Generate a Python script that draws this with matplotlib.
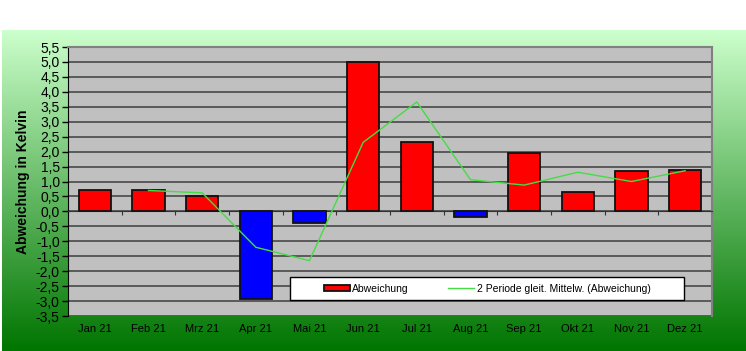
import numpy as np
import matplotlib.pyplot as plt
from matplotlib.ticker import MultipleLocator, FuncFormatter
from matplotlib.patches import Rectangle

plt.rcParams['font.family'] = ['Liberation Sans', 'DejaVu Sans']

months = ['Jan 21', 'Feb 21', 'Mrz 21', 'Apr 21', 'Mai 21', 'Jun 21',
          'Jul 21', 'Aug 21', 'Sep 21', 'Okt 21', 'Nov 21', 'Dez 21']
abweichung = [0.70, 0.70, 0.53, -2.92, -0.38, 5.00, 2.32, -0.20, 1.95, 0.66, 1.34, 1.38]
# 2 Perioden gleitender Mittelwert, starts at Feb
mittel_months = months[1:]
mittel = [0.70, 0.62, -1.20, -1.65, 2.31, 3.66, 1.06, 0.88, 1.31, 1.00, 1.36]

fig = plt.figure(figsize=(7.46, 3.51), dpi=100)
fig.patch.set_facecolor('white')

# green gradient background
bg = fig.add_axes([2 / 746, 0, 1 - 2 / 746, 321 / 351], zorder=0)
grad = np.linspace(0, 1, 256).reshape(-1, 1)
top = np.array([0.80, 1.0, 0.80])
bot = np.array([0.0, 0.46, 0.0])
img = top + (bot - top) * grad[:, :, None]
bg.imshow(img, aspect='auto', extent=[0, 1, 0, 1])
bg.axis('off')

ax = fig.add_axes([68 / 746, 35 / 351, 644 / 746, 269 / 351], zorder=1)
ax.set_facecolor('#c0c0c0')

x = np.arange(len(months))
colors = ['#ff0000' if v >= 0 else '#0000ff' for v in abweichung]
bars = ax.bar(x, abweichung, width=0.6, color=colors, edgecolor='#111111',
              linewidth=1.3, zorder=3, label='Abweichung')
line, = ax.plot(x[1:], mittel, color='#44dd44', linewidth=1, zorder=4,
                label='2 Periode gleit. Mittelw. (Abweichung)')

ax.set_xlim(-0.5, len(months) - 0.5)
ax.set_ylim(-3.5, 5.5)
ax.yaxis.set_major_locator(MultipleLocator(0.5))
ax.yaxis.set_major_formatter(FuncFormatter(lambda v, p: f'{v:.1f}'.replace('.', ',')))
ax.grid(axis='y', color='#484848', linewidth=1.2, zorder=1)
ax.tick_params(axis='y', labelsize=10, length=4, width=1, color='black', pad=2)

# x axis at zero with ticks at category boundaries
ax.spines['bottom'].set_position(('data', 0))
ax.spines['bottom'].set_color('#333333')
ax.set_xticks(np.arange(len(months) + 1) - 0.5)
ax.tick_params(axis='x', length=3, direction='out', labelbottom=False, color='#333333')
sec = ax.secondary_xaxis('bottom')
sec.set_xticks(x)
sec.set_xticklabels(months, fontsize=8)
sec.tick_params(length=0, pad=6)
sec.spines['bottom'].set_visible(False)

ax.spines['left'].set_color('black')
for s in ['top', 'right']:
    ax.spines[s].set_color('#808080')
    ax.spines[s].set_linewidth(1.5)

ax.set_ylabel('Abweichung in Kelvin', fontsize=10, fontweight='bold', labelpad=4)

# legend box
box = Rectangle((0.345, 0.059), 0.612, 0.086, transform=ax.transAxes,
                facecolor='white', edgecolor='black', linewidth=1, zorder=5)
ax.add_patch(box)
leg = ax.legend([bars, line], ['Abweichung', '2 Periode gleit. Mittelw. (Abweichung)'],
                ncol=2, loc='center', bbox_to_anchor=(0.345 + 0.306, 0.059 + 0.043),
                fontsize=7.5, frameon=False, borderaxespad=0, borderpad=0,
                handlelength=2.5, handleheight=0.6, handletextpad=0.2, columnspacing=3.8)
leg.set_zorder(6)

fig.savefig('out.png', dpi=100)
